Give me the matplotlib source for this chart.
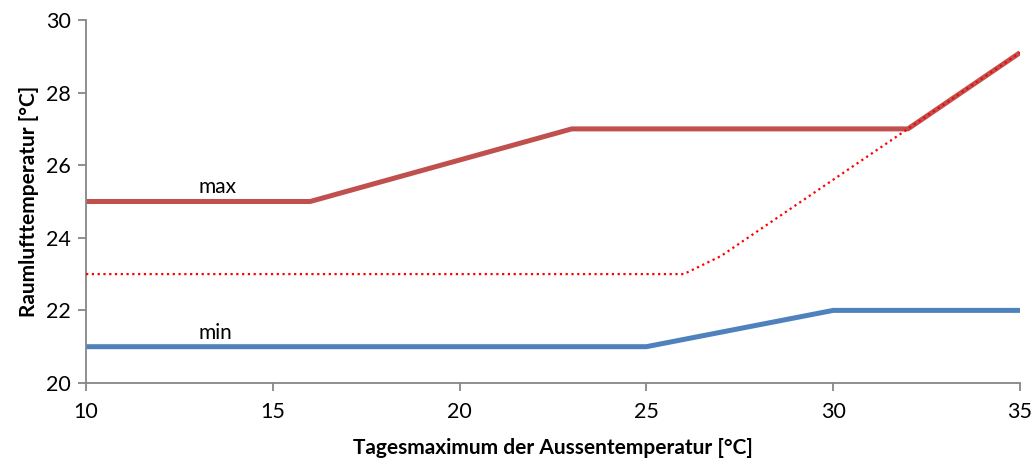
import matplotlib
matplotlib.use("Agg")
import matplotlib.pyplot as plt

# Raumlufttemperatur-Grenzen in Abhängigkeit vom Tagesmaximum der Aussentemperatur
max_x = [10, 16, 23, 32, 35]
max_y = [25, 25, 27, 27, 29.1]
min_x = [10, 25, 30, 35]
min_y = [21, 21, 22, 22]
ref_x = [10, 26, 27, 32, 35]
ref_y = [23, 23, 23.5, 27, 29.1]

plt.rcParams["font.family"] = ["Lato", "DejaVu Sans"]
AXIS_GRAY = "#868686"

fig = plt.figure(figsize=(10.33, 4.58), dpi=100)
ax = fig.add_axes([0.0833, 0.1638, 0.9041, 0.7925])

ax.plot(max_x, max_y, color="#C0504D", lw=3.6, solid_capstyle="butt", zorder=2)
ax.plot(min_x, min_y, color="#4F81BD", lw=3.6, solid_capstyle="butt", zorder=2)
ax.plot(ref_x, ref_y, color="#FF0000", lw=1.6, linestyle=(0, (1, 1.6)), zorder=3)

ax.text(13.0, 25.12, "max", fontsize=15, ha="left", va="bottom")
ax.text(13.0, 21.1, "min", fontsize=15, ha="left", va="bottom")

ax.set_xlim(10, 35)
ax.set_ylim(20, 30)
ax.set_xticks(range(10, 36, 5))
ax.set_yticks(range(20, 31, 2))

for side in ("top", "right"):
    ax.spines[side].set_visible(False)
for side in ("left", "bottom"):
    ax.spines[side].set_color(AXIS_GRAY)
    ax.spines[side].set_linewidth(1.3)
ax.tick_params(direction="out", length=6, width=1.3, color=AXIS_GRAY,
               labelsize=15.5, pad=5)
ax.tick_params(axis="x", pad=8)

ax.set_xlabel("Tagesmaximum der Aussentemperatur [°C]", fontsize=15,
              fontweight="bold", labelpad=11)
ax.set_ylabel("Raumlufttemperatur [°C]", fontsize=15, fontweight="bold",
              labelpad=5)

fig.savefig("out.png", dpi=100)
